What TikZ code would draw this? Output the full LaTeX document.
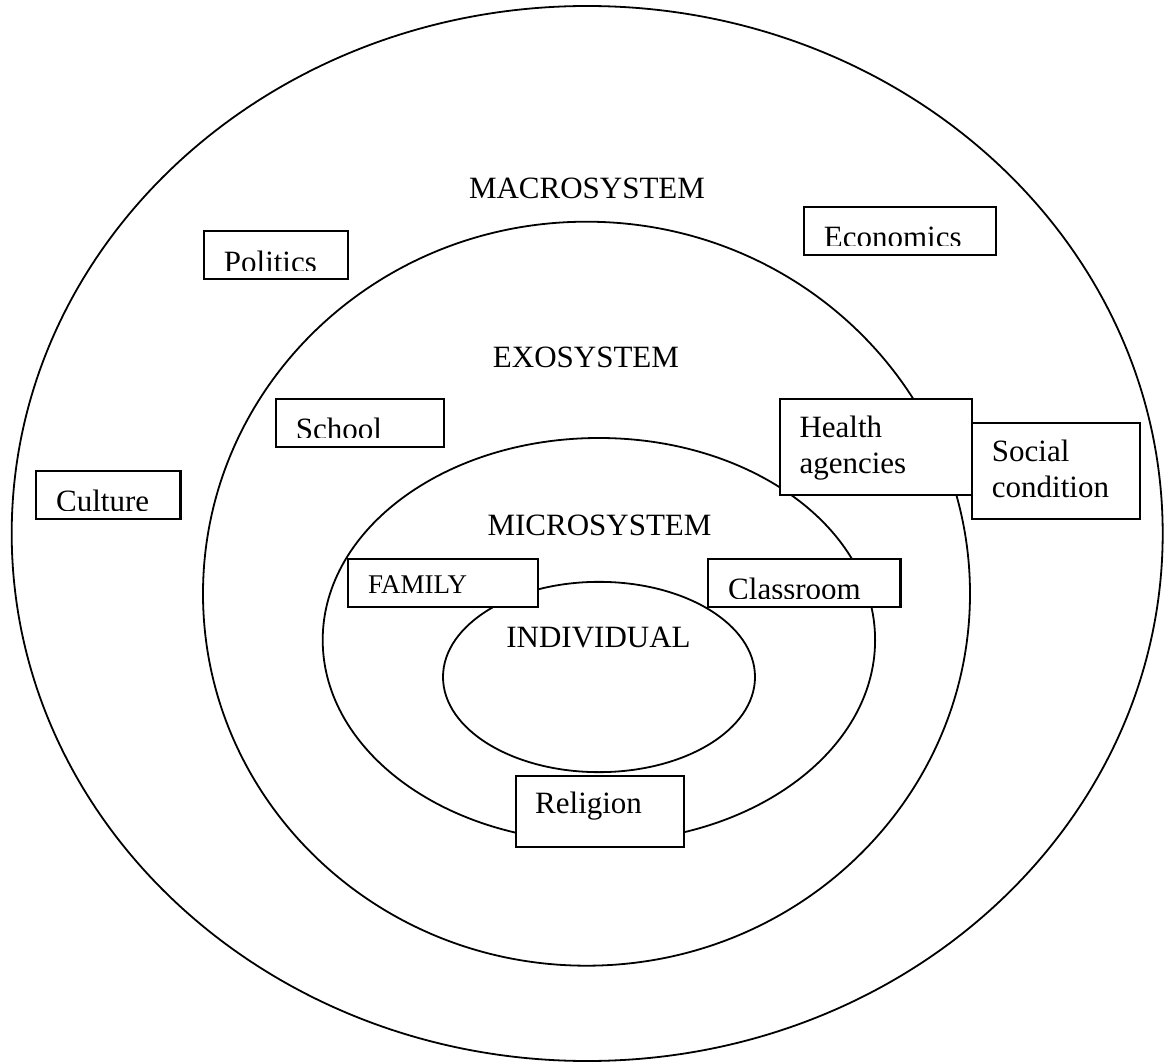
\documentclass[tikz,border=0pt]{standalone}
\usepackage{fontspec}
\setmainfont{Liberation Serif}
\usetikzlibrary{shapes.geometric}
\begin{document}
\begin{tikzpicture}[x=1pt,y=-1pt,
  ring/.style={ellipse,draw=black,line width=1.8pt,inner sep=0pt},
  tbox/.style={rectangle,draw=black,fill=white,line width=2.4pt,inner sep=0pt,anchor=north west},
  lbl/.style={font=\fontsize{31}{36}\selectfont,inner sep=0pt,text=black},
  lblsmall/.style={font=\fontsize{27}{32}\selectfont,inner sep=0pt,text=black}]
\useasboundingbox (0,0) rectangle (1168,1064);
\fill[white] (0,0) rectangle (1168,1064);

% ellipses
\node[ring,minimum width=1151pt,minimum height=1055pt] (macro) at (587.2,533.5) {};
\node[ring,minimum width=767pt,minimum height=744pt] (exo) at (586.5,593.7) {};
\node[ring,minimum width=552.4pt,minimum height=404pt] (micro) at (598.9,640) {};
\node[ring,minimum width=312pt,minimum height=190.3pt] (indiv) at (599,677) {};

% system titles
\node[lbl,anchor=base] (macroT) at (587,198.3) {MACROSYSTEM};
\node[lbl,anchor=base] (exoT) at (586,368) {EXOSYSTEM};
\node[lbl,anchor=base] (microT) at (599.5,535) {MICROSYSTEM};
\node[lbl,anchor=base] (indivT) at (598.5,647.7) {INDIVIDUAL};

% clipped single-line boxes
\node[tbox,minimum width=144.3pt,minimum height=48pt] (politics) at (202.7,230) {};
\begin{scope}
\clip ([yshift=10pt]politics.south west) rectangle (politics.north east);
\node[lbl,anchor=base west] (politicsT) at ([xshift=21pt,yshift=8pt]politics.south west) {Politics};
\end{scope}

\node[tbox,minimum width=192.3pt,minimum height=48.3pt] (economics) at (802.7,205.7) {};
\begin{scope}
\clip ([yshift=10.5pt]economics.south west) rectangle (economics.north east);
\node[lbl,anchor=base west] (economicsT) at ([xshift=21pt,yshift=8.5pt]economics.south west) {Economics};
\end{scope}

\node[tbox,minimum width=168.3pt,minimum height=48pt] (school) at (274.7,398) {};
\begin{scope}
\clip ([yshift=10.5pt]school.south west) rectangle (school.north east);
\node[lbl,anchor=base west] (schoolT) at ([xshift=21pt,yshift=9pt]school.south west) {School};
\end{scope}

\node[tbox,minimum width=144.6pt,minimum height=48pt] (culture) at (34.7,470) {};
\begin{scope}
\clip ([yshift=10.3pt]culture.south west) rectangle (culture.north east);
\node[lbl,anchor=base west] (cultureT) at ([xshift=21.3pt,yshift=8.5pt]culture.south west) {Culture};
\end{scope}

\node[tbox,minimum width=192.3pt,minimum height=48pt] (classroom) at (707,558) {};
\begin{scope}
\clip ([yshift=9.5pt]classroom.south west) rectangle (classroom.north east);
\node[lbl,anchor=base west] (classroomT) at ([xshift=21pt,yshift=8.5pt]classroom.south west) {Classroom};
\end{scope}

% other boxes
\node[tbox,minimum width=190.3pt,minimum height=47.7pt] (family) at (346.7,558) {};
\node[lblsmall,anchor=base west] (familyT) at (368,593.3) {FAMILY};

\node[tbox,minimum width=168.3pt,minimum height=95.7pt] (social) at (970.7,422) {};
\node[lbl,anchor=base west] (socialT1) at (991.7,461.7) {Social};
\node[lbl,anchor=base west] (socialT2) at (991.7,498) {condition};

\node[tbox,minimum width=192.3pt,minimum height=96pt] (health) at (778.7,398) {};
\node[lbl,anchor=base west] (healthT1) at (799.3,437.3) {Health};
\node[lbl,anchor=base west] (healthT2) at (799.3,473.8) {agencies};

\node[tbox,minimum width=168.3pt,minimum height=70.7pt] (religion) at (514.7,775) {};
\node[lbl,anchor=base west] (religionT) at (535,813.3) {Religion};
\end{tikzpicture}
\end{document}
